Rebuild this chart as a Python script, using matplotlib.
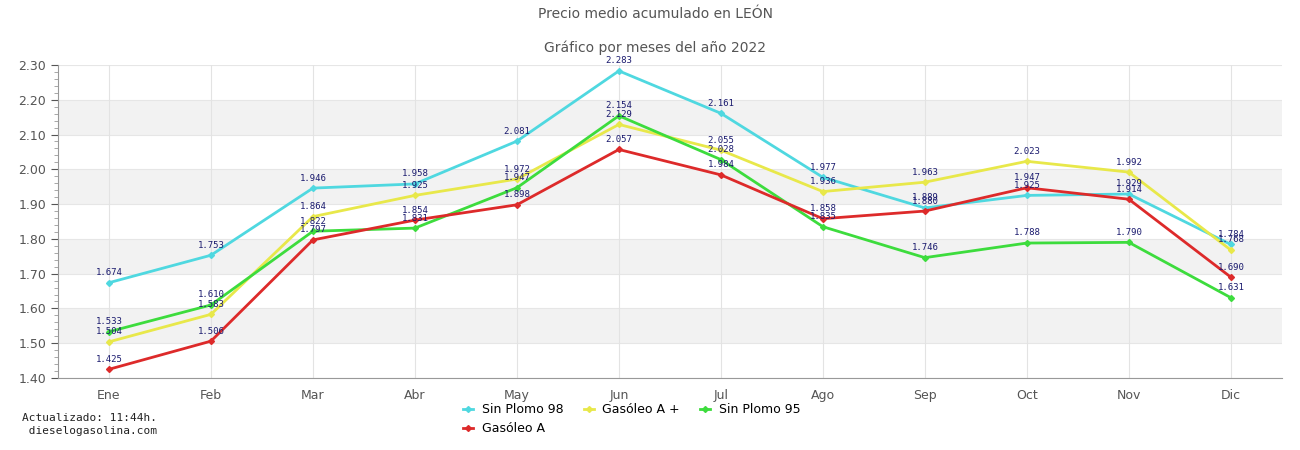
import numpy as np
import matplotlib.pyplot as plt
from matplotlib.ticker import MultipleLocator

# months of 2022
months = ['Ene', 'Feb', 'Mar', 'Abr', 'May', 'Jun', 'Jul', 'Ago', 'Sep', 'Oct', 'Nov', 'Dic']

# average accumulated price per fuel type (EUR/l)
sin_plomo_98 = [1.674, 1.753, 1.946, 1.958, 2.081, 2.283, 2.161, 1.977, 1.889, 1.925, 1.929, 1.784]
gasoleo_a_plus = [1.504, 1.583, 1.864, 1.925, 1.972, 2.129, 2.055, 1.936, 1.963, 2.023, 1.992, 1.768]
sin_plomo_95 = [1.533, 1.610, 1.822, 1.831, 1.947, 2.154, 2.028, 1.835, 1.746, 1.788, 1.790, 1.631]
gasoleo_a = [1.425, 1.506, 1.797, 1.854, 1.898, 2.057, 1.984, 1.858, 1.880, 1.947, 1.914, 1.690]

series = [
    ('Sin Plomo 98', sin_plomo_98, '#4fd8e0'),
    ('Gasóleo A +', gasoleo_a_plus, '#e8e84a'),
    ('Sin Plomo 95', sin_plomo_95, '#3ddc3d'),
    ('Gasóleo A', gasoleo_a, '#dd2a2a'),
]

fig = plt.figure(figsize=(13, 4.5), dpi=100)
ax = fig.add_axes([0.0446, 0.16, 0.9414, 0.6956])

x = np.arange(len(months))
ax.set_xlim(-0.5, len(months) - 0.5)
ax.set_ylim(1.40, 2.30)

# alternating grey bands
for lo in [1.50, 1.70, 1.90, 2.10]:
    ax.axhspan(lo, lo + 0.10, color='#f2f2f2', zorder=0, lw=0)
for yv in np.arange(1.40, 2.31, 0.10):
    ax.axhline(yv, color='#e6e6e6', lw=0.8, zorder=0.5)
for xv in x:
    ax.axvline(xv, color='#e3e3e3', lw=0.8, zorder=0.5)

handles = {}
for name, vals, col in series:
    h, = ax.plot(x, vals, color=col, lw=2, marker='D', markersize=3, zorder=3, label=name)
    handles[name] = h
    for xi, v in zip(x, vals):
        ax.annotate('%.3f' % v, (xi, v), xytext=(0, 4), textcoords='offset points',
                    ha='center', va='bottom', fontsize=6.5, family='DejaVu Sans Mono',
                    color='#1a1a6e', zorder=4)

ax.set_xticks(x)
ax.set_xticklabels(months)
ax.set_yticks(np.arange(1.40, 2.31, 0.10))
ax.set_yticklabels(['%.2f' % v for v in np.arange(1.40, 2.31, 0.10)])
ax.yaxis.set_minor_locator(MultipleLocator(0.02))
ax.tick_params(axis='x', length=0, pad=8, labelsize=9, colors='#555555')
ax.tick_params(axis='y', which='major', length=5, labelsize=9, colors='#555555')
ax.tick_params(axis='y', which='minor', length=3, colors='#999999')
for s in ['top', 'right']:
    ax.spines[s].set_visible(False)
ax.spines['left'].set_color('#999999')
ax.spines['bottom'].set_color('#999999')

fig.text(0.504, 0.969, 'Precio medio acumulado en LEÓN', ha='center', va='center',
         fontsize=10, color='#555555')
fig.text(0.504, 0.893, 'Gráfico por meses del año 2022', ha='center', va='center',
         fontsize=10, color='#555555')

# legend laid out row-wise
order = ['Sin Plomo 98', 'Gasóleo A', 'Gasóleo A +', 'Sin Plomo 95']
fig.legend([handles[n] for n in order], order, ncol=3, loc='upper center',
           bbox_to_anchor=(0.486, 0.115), frameon=False, fontsize=9,
           handlelength=0.8, handletextpad=0.7, columnspacing=1.6, labelspacing=0.5,
           borderaxespad=0)

fig.text(0.017, 0.057, 'Actualizado: 11:44h.\n dieselogasolina.com', ha='left', va='center',
         fontsize=8, family='DejaVu Sans Mono', color='#222222', linespacing=1.3)

fig.savefig('out.png', dpi=100)
